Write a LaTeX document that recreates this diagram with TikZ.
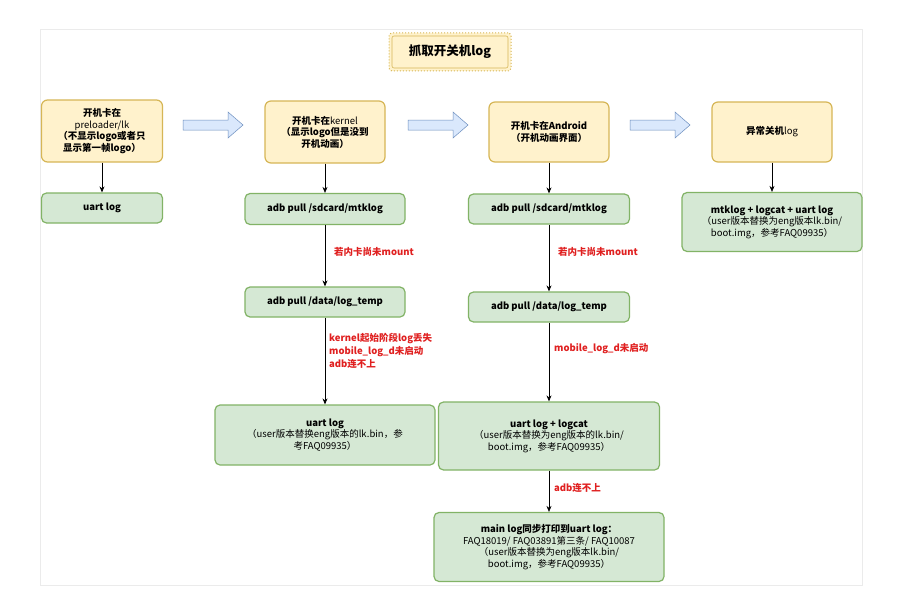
\documentclass[tikz,border=0pt]{standalone}
\usepackage{fontspec}
\setmainfont{Noto Sans CJK SC}
\usetikzlibrary{arrows.meta}
\definecolor{yf}{HTML}{FFF2CC}\definecolor{yd}{HTML}{D6B656}
\definecolor{gf}{HTML}{D5E8D4}\definecolor{gd}{HTML}{82B366}
\definecolor{bf}{HTML}{DAE8FC}\definecolor{bd}{HTML}{6C8EBF}
\definecolor{rd}{HTML}{E02020}
\begin{document}
\begin{tikzpicture}[x=1pt,y=-1pt,
  ybox/.style={draw=yd,fill=yf,line width=1.2pt,rounded corners=6pt,align=center,font=\fontsize{9.5}{11.5}\selectfont\bfseries,inner sep=1pt},
  gbox/.style={draw=gd,fill=gf,line width=1.2pt,rounded corners=5pt,align=center,font=\fontsize{9.5}{11.5}\selectfont,inner sep=1pt},
  lbl/.style={text=rd,font=\fontsize{9.5}{11.5}\selectfont\bfseries,align=left,anchor=west,inner sep=0pt},
  arr/.style={-{Stealth[length=6pt,width=5pt]},line width=0.7pt},
  barr/.style={draw=bd,fill=bf,line width=0.5pt}]
\useasboundingbox (0,0) rectangle (902,602);
\fill[white] (0,0) rectangle (902,602);
\draw[black!8,line width=1pt] (40,30) rectangle (862,585);
% title
\node[draw=yd,fill=yf,dotted,line width=1pt,rounded corners=3pt,minimum width=122pt,minimum height=38pt,font=\fontsize{12.5}{14}\selectfont\bfseries] (t) at (450,52) {抓取开关机log};
\draw[yd,line width=0.6pt,rounded corners=2pt] (392,36) rectangle (508,68);
% top row
\node[ybox,minimum width=121pt,minimum height=62pt] (a1) at (102,131) {开机卡在\\\mdseries preloader/lk\\\bfseries（不显示logo或者只\\显示第一帧logo）};
\node[ybox,minimum width=120pt,minimum height=62pt] (a2) at (325,132) {开机卡在\mdseries kernel\bfseries\\（显示logo但是没到\\开机动画）};
\node[ybox,minimum width=120pt,minimum height=60pt] (a3) at (549,132) {开机卡在Android\\（开机动画界面）};
\node[ybox,minimum width=120pt,minimum height=60pt] (a4) at (772,132) {异常关机\mdseries log};
% block arrows
\foreach \n/\x in {r1/183,r2/408,r3/630}{
  \draw[barr] (\x,120) -- ++(45,0) -- ++(0,-8) -- ++(15,13) -- ++(-15,13) -- ++(0,-8) -- ++(-45,0) -- cycle;
  \coordinate (\n) at (\x,125);
}
% row 2
\node[gbox,minimum width=121pt,minimum height=30pt,font=\fontsize{9.5}{11.5}\selectfont\bfseries] (b1) at (102,208) {uart log};
\node[gbox,minimum width=160pt,minimum height=31pt,font=\fontsize{9.5}{11.5}\selectfont\bfseries] (b2) at (325,209) {adb pull /sdcard/mtklog};
\node[gbox,minimum width=161pt,minimum height=30pt,font=\fontsize{9.5}{11.5}\selectfont\bfseries] (b3) at (549,209) {adb pull /sdcard/mtklog};
\node[gbox,minimum width=180pt,minimum height=59pt] (b4) at (772,222) {\textbf{mtklog + logcat + uart log}\\（user版本替换为eng版本lk.bin/\\boot.img，参考FAQ09935）};
\node[gbox,minimum width=160pt,minimum height=30pt,font=\fontsize{9.5}{11.5}\selectfont\bfseries] (c2) at (325,302) {adb pull /data/log\_temp};
\node[gbox,minimum width=161pt,minimum height=30pt,font=\fontsize{9.5}{11.5}\selectfont\bfseries] (c3) at (549,307) {adb pull /data/log\_temp};
\node[gbox,minimum width=220pt,minimum height=60pt] (d2) at (325,435) {\textbf{uart log}\\（user版本替换eng版本的lk.bin，参\\考FAQ09935）};
\node[gbox,minimum width=221pt,minimum height=68pt] (d3) at (549,436) {\textbf{uart log + logcat}\\（user版本替换为eng版本的lk.bin/\\boot.img，参考FAQ09935）};
\node[gbox,minimum width=230pt,minimum height=69pt] (e3) at (549,547) {\textbf{main log同步打印到uart log：}\\FAQ18019/ FAQ03891第三条/ FAQ10087\\（user版本替换为eng版本lk.bin/\\boot.img，参考FAQ09935）};
% arrows
\draw[arr] (a1) -- (b1);
\draw[arr] (a2) -- (b2);
\draw[arr] (a3) -- (b3);
\draw[arr] (a4) -- (b4);
\draw[arr] (b2) -- (c2);
\draw[arr] (b3) -- (c3);
\draw[arr] (c2) -- (d2);
\draw[arr] (c3) -- (d3);
\draw[arr] (d3) -- (e3);
% labels
\node[lbl] (l1) at (334,252) {若内卡尚未mount};
\node[lbl] (l2) at (558,252) {若内卡尚未mount};
\node[lbl,font=\fontsize{9.5}{13}\selectfont\bfseries] (l3) at (329,351) {kernel起始阶段log丢失\\mobile\_log\_d未启动\\adb连不上};
\node[lbl] (l4) at (554,349) {mobile\_log\_d未启动};
\node[lbl] (l5) at (554,488) {adb连不上};
\end{tikzpicture}
\end{document}
